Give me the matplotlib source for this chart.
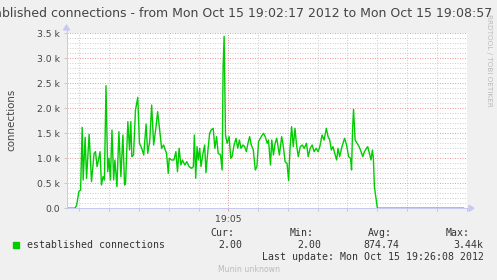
import matplotlib
matplotlib.use("Agg")
import matplotlib.pyplot as plt
from matplotlib.patches import Rectangle, Polygon

# ---- data (seconds since 19:02:17, established connections) ----
t_sec = [0, 8.5, 10.2, 12.5, 14.2,
         15.8, 16.8, 18.8, 20.2, 22.8, 25.2, 27.8, 29.2, 30.8, 32.2,
         33.8, 35.2, 36.8, 38.2, 39.8, 41.5, 42.8, 44.2, 45.8, 47.5,
         48.8, 50.8, 52.8, 54.8, 56.8, 58.5, 59.5, 61.8, 63.5, 64.8,
         65.8, 67.5, 69.5, 71.8, 73.5, 75.8, 77.8, 80.2, 81.8, 83.8,
         85.8, 87.8, 90.2, 91.8, 93.5, 95.8, 97.8, 99.5, 100.8, 102.5,
         103.5, 105.8, 108.2, 110.2, 111.8, 113.5, 115.2, 116.8, 119.2, 121.2,
         123.5, 126.2, 127.8, 128.8, 130.2, 131.5, 132.8, 134.2, 135.5, 137.5,
         139.2, 140.5, 142.2, 144.2, 145.8, 147.8, 149.5, 151.2, 152.8, 155.2,
         156.8, 157.8, 158.8, 160.2, 161.8, 163.8, 165.5, 166.8, 168.8, 170.8,
         172.5, 174.2, 175.8, 177.8, 179.5, 181.2, 182.8, 184.5, 186.2, 188.2,
         190.2, 191.8, 193.5, 196.2, 198.5, 200.2, 202.2, 203.5, 205.5, 206.8,
         208.5, 210.2, 211.8, 214.5, 216.8, 218.5, 220.2, 222.2, 223.8, 225.2,
         226.8, 228.5, 230.2, 231.8, 233.5, 235.5, 237.5, 239.5, 241.8, 243.5,
         245.5, 247.5, 249.5, 251.5, 253.5, 255.2, 257.5, 259.5, 261.8, 263.5,
         265.2, 266.8, 268.5, 270.2, 272.2, 273.5, 275.2, 277.5, 280.2, 282.2,
         284.2, 286.2, 287.2, 288.2, 289.2, 290.8, 292.8, 294.8, 296.8, 298.5,
         300.2, 302.2, 303.5, 305.2, 306.8, 308.2, 309.2, 310.2, 311.8, 313.2, 400]
connections = [2, 2, 60, 340, 366,
               1620, 566, 1420, 600, 1480, 533, 1100, 1133, 833, 966,
               1133, 466, 633, 566, 2453, 733, 1000, 566, 1566, 566,
               966, 433, 1533, 633, 1466, 466, 500, 1733, 1166, 1733,
               1033, 1066, 1966, 2220, 1300, 1200, 1066, 1686, 1100, 1333,
               2066, 1266, 1633, 1933, 1633, 1200, 1266, 1166, 1100, 700,
               1000, 966, 966, 1133, 733, 1200, 866, 966, 866, 933,
               833, 800, 833, 1466, 600, 1233, 966, 1200, 833, 1100,
               1266, 713, 1100, 1500, 1566, 1600, 1200, 1433, 1100, 1066,
               766, 2833, 3440, 1466, 1300, 1433, 1000, 1033, 1266, 1400,
               1200, 1366, 1200, 1266, 1233, 1133, 1300, 1433, 1266, 1166,
               766, 833, 1333, 1433, 1500, 1433, 1300, 1366, 866, 1366,
               1066, 1300, 1400, 1066, 1433, 1233, 933, 900, 553, 1200,
               1633, 1233, 1600, 1266, 1033, 1233, 1266, 1200, 1300, 1033,
               1200, 1266, 1133, 1200, 1133, 1233, 1466, 1366, 1600, 1433,
               1366, 1166, 1233, 1100, 966, 1200, 1033, 1233, 1400, 1266,
               1033, 1000, 766, 1566, 1980, 1366, 1300, 1233, 1133, 1033,
               1133, 1200, 1233, 1100, 966, 1166, 1000, 433, 200, 2, 2]

y_ticks = [0, 500, 1000, 1500, 2000, 2500, 3000, 3500]
y_labels = ["0.0", "0.5 k", "1.0 k", "1.5 k", "2.0 k", "2.5 k", "3.0 k", "3.5 k"]
x_minor = [13 + 30 * i for i in range(14)]   # every 30 s, clock aligned
x_major = [163]                               # 19:05:00
x_major_labels = ["19:05"]

title = "Established connections - from Mon Oct 15 19:02:17 2012 to Mon Oct 15 19:08:57"
legend_name = "established connections"
stat_heads = ["Cur:", "Min:", "Avg:", "Max:"]
stat_vals = ["2.00", "2.00", "874.74", "3.44k"]
last_update = "Last update: Mon Oct 15 19:26:08 2012"

W, H = 497, 280
BG = "#F0F0F0"
fig = plt.figure(figsize=(W / 100, H / 100), dpi=100, facecolor=BG)

def fx(x):
    return x / W

def fy(y):
    return 1 - y / H

PX = 0.72  # one pixel in points

left, right, top, bottom = 66.5, 466.5, 33.3, 208.3
ax = fig.add_axes([fx(left), fy(bottom), (right - left) / W, (bottom - top) / H])
ax.set_facecolor("white")
ax.set_xlim(0, 400)
ax.set_ylim(0, 3500)
for s in ax.spines.values():
    s.set_visible(False)

minor_c = "#CFCFCF"
major_c = "#EB9C9C"
dot = (0, (1, 1.5))
for yv in range(100, 3501, 100):
    if yv % 500 == 0:
        continue
    ax.axhline(yv, color=minor_c, lw=PX, ls=dot, zorder=1)
for xv in x_minor:
    if xv in x_major:
        continue
    ax.axvline(xv, color=minor_c, lw=PX, ls=dot, zorder=1)
for yv in y_ticks[1:]:
    ax.axhline(yv, color=major_c, lw=PX, ls=dot, zorder=1.5)
for xv in x_major:
    ax.axvline(xv, color=major_c, lw=PX, ls=dot, zorder=1.5)

ax.plot(t_sec, connections, color="#00CC00", lw=1.0, zorder=3, solid_joinstyle="round")

ax.set_yticks(y_ticks)
ax.set_yticklabels(y_labels)
ax.set_xticks(x_major)
ax.set_xticklabels(x_major_labels)
ax.set_xticks(x_minor, minor=True)
ax.tick_params(axis="both", which="both", length=2, width=PX, color="#C8C8C8",
               labelsize=6.7, labelcolor="#444444", pad=2.5)
ax.tick_params(axis="x", which="major", color=major_c)

# axes with arrows
axis_c = "#C8C8F4"
fig.add_artist(plt.Line2D([fx(left), fx(470)], [fy(bottom), fy(bottom)],
                          color=axis_c, lw=PX, transform=fig.transFigure))
fig.add_artist(plt.Line2D([fx(left), fx(left)], [fy(bottom), fy(29)],
                          color=axis_c, lw=PX, transform=fig.transFigure))
fig.add_artist(Polygon([[fx(469), fy(bottom - 3)], [fx(474), fy(bottom)], [fx(469), fy(bottom + 3)]],
                       closed=True, color=axis_c, transform=fig.transFigure))
fig.add_artist(Polygon([[fx(left - 3), fy(30)], [fx(left), fy(25)], [fx(left + 3), fy(30)]],
                       closed=True, color=axis_c, transform=fig.transFigure))

# texts
fig.text(fx(492), fy(13.5), title, ha="right", va="center", fontsize=9.0,
         color="#444444", family="DejaVu Sans")
fig.text(fx(11), fy(120), "connections", rotation=90, ha="center", va="center",
         fontsize=7.4, color="#444444", family="DejaVu Sans")
fig.text(fx(489), fy(60), "RRDTOOL / TOBI OETIKER", rotation=270, ha="center", va="center",
         fontsize=5.2, color="#BBBBBB", family="DejaVu Sans")

mono = dict(family="DejaVu Sans Mono", fontsize=7.1, color="#333333", va="center")
fig.add_artist(Rectangle((fx(13.3), fy(247.7)), 6 / W, 6 / H, color="#00CC00",
                         transform=fig.transFigure))
fig.text(fx(26.7), fy(245), legend_name, ha="left", **mono)
head_right = [234.5, 313.5, 391.5, 469.5]
val_right = [242.5, 321.5, 399.5, 483.5]
for h, xr in zip(stat_heads, head_right):
    fig.text(fx(xr), fy(233.3), h, ha="right", **mono)
for v, xr in zip(stat_vals, val_right):
    fig.text(fx(xr), fy(245), v, ha="right", **mono)
fig.text(fx(483.5), fy(257.5), last_update, ha="right", **mono)
fig.text(fx(248.5), fy(269.5), "Munin unknown", ha="center", va="center",
         fontsize=5.6, color="#BBBBBB", family="DejaVu Sans")

fig.savefig("out.png", dpi=100, facecolor=BG)
